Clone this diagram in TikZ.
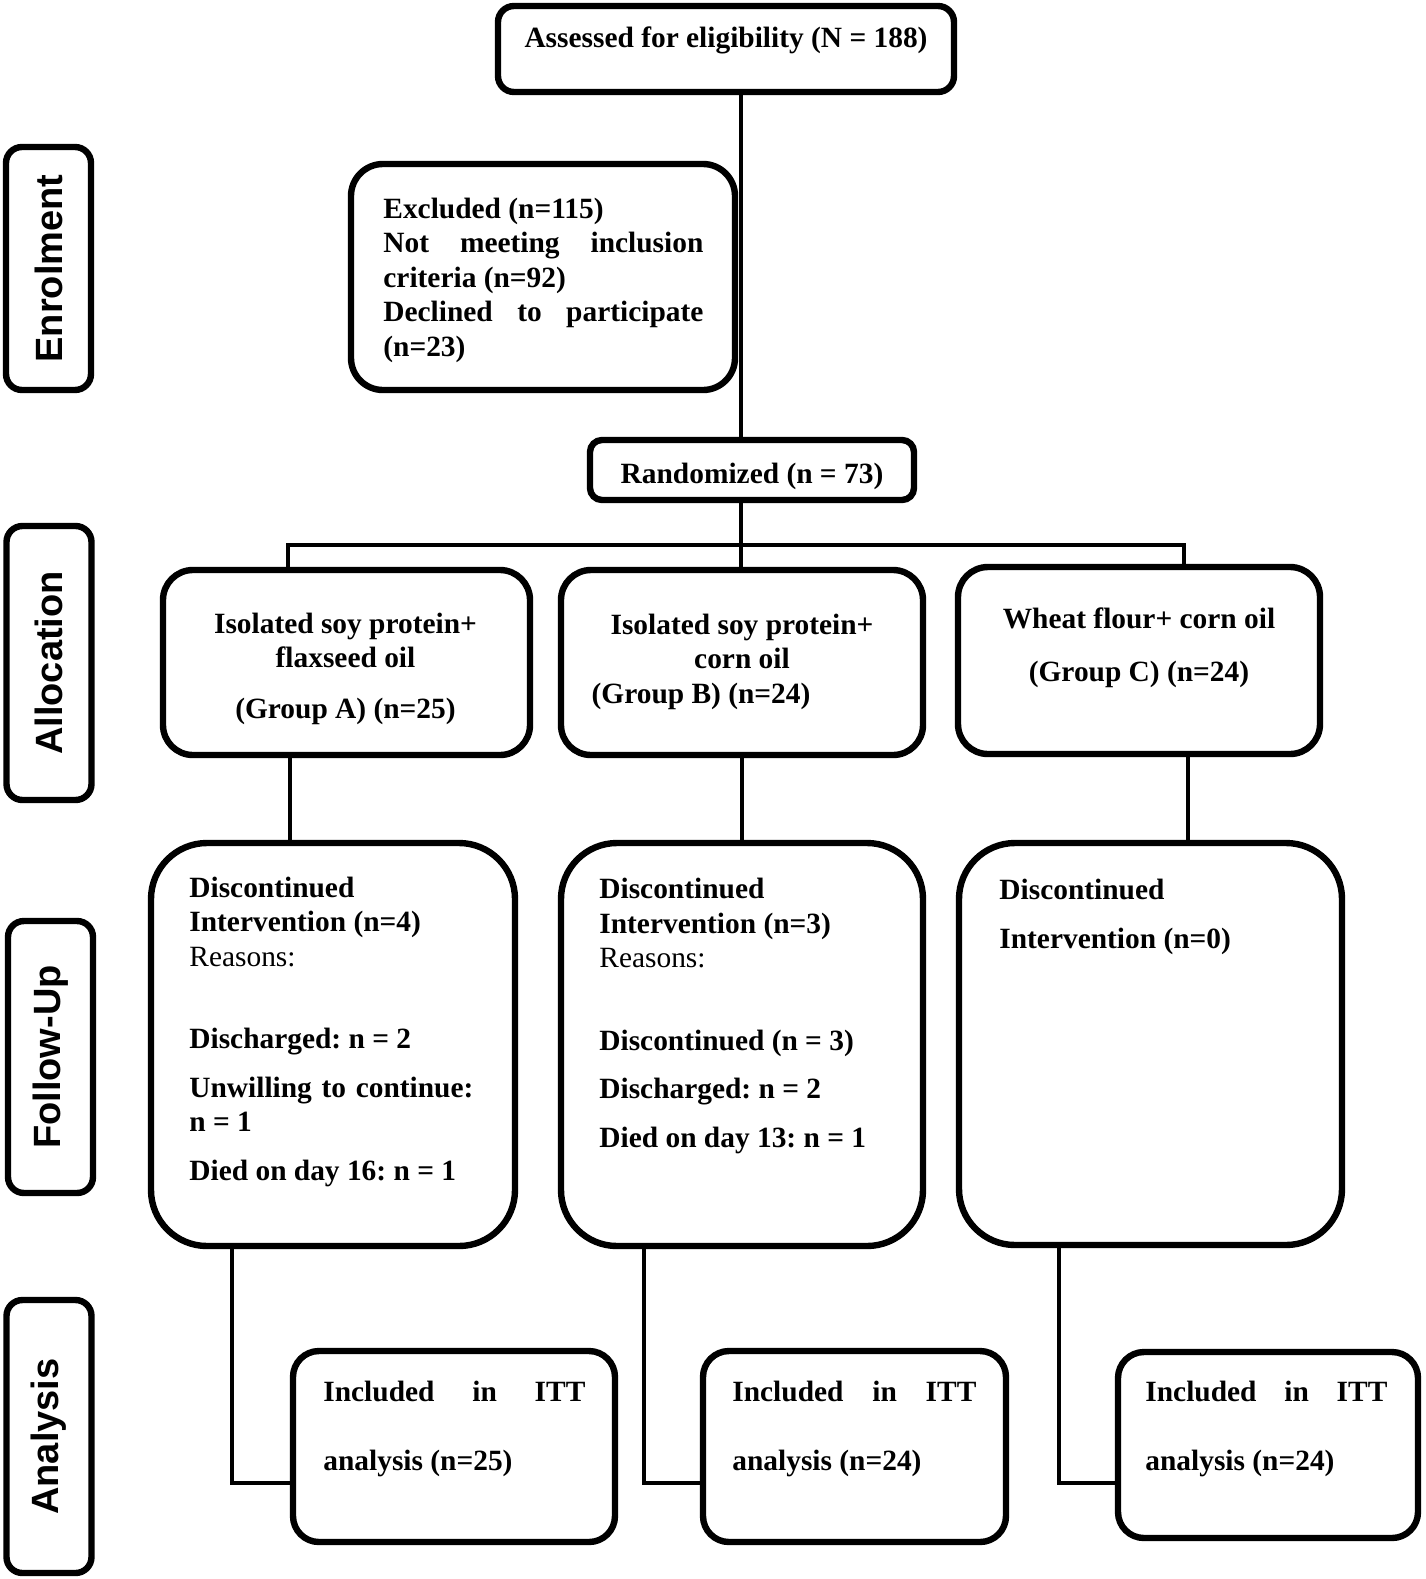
\documentclass[tikz,border=0pt]{standalone}
\usepackage{fontspec}
\setmainfont{Liberation Serif}
\setsansfont{Liberation Sans}
\frenchspacing
\newcommand{\spread}[2]{\makebox[#1][s]{#2}}

\begin{document}
\begin{tikzpicture}[x=0.5pt,y=-0.5pt,
  box/.style={draw,line width=3.2pt,inner sep=0pt},
  link/.style={line width=2.3pt},
  txt/.style={inner sep=0pt,font=\fontsize{14.7}{17.25}\selectfont\bfseries,align=left},
  phase/.style={box,rounded corners=8pt,rotate=90,minimum height=42.5pt,font=\fontsize{19}{22}\selectfont\sffamily\bfseries}]
\useasboundingbox (0,0) rectangle (1425,1579);
 \foreach \n/\x/\y/\h/\t in {enrol/48.5/268.5/121.5/Enrolment,alloc/49/663/137/Allocation,follow/50.5/1057/136/Follow-Up,anal/49/1436.5/136.5/Analysis}
 \node[phase,minimum width=\h pt] (\n) at (\x,\y) {\t};
\node[box,rounded corners=8pt,minimum width=228pt,minimum height=43pt] (assess) at (726,49) {};
\node[box,rounded corners=16pt,minimum width=192pt,minimum height=113pt] (excl) at (543,277) {};
\node[box,rounded corners=6pt,minimum width=162pt,minimum height=30pt] (rand) at (752,470) {};
\node[box,rounded corners=15pt,minimum width=183.5pt,minimum height=92.5pt] (grpA) at (346.5,662.5) {};
\node[box,rounded corners=15pt,minimum width=181pt,minimum height=92.5pt] (grpB) at (742,662.5) {};
\node[box,rounded corners=15pt,minimum width=181pt,minimum height=93.5pt] (grpC) at (1139,660.5) {};
\node[box,rounded corners=28pt,minimum width=182pt,minimum height=201.5pt] (fuA) at (333,1044.5) {};
\node[box,rounded corners=28pt,minimum width=181pt,minimum height=201.5pt] (fuB) at (742,1044.5) {};
\node[box,rounded corners=28pt,minimum width=191.5pt,minimum height=201pt] (fuC) at (1150.5,1044) {};
\node[box,rounded corners=13pt,minimum width=161pt,minimum height=95.5pt] (ittA) at (454,1446.5) {};
\node[box,rounded corners=13pt,minimum width=151.5pt,minimum height=95.5pt] (ittB) at (854.5,1446.5) {};
\node[box,rounded corners=13pt,minimum width=150pt,minimum height=93pt] (ittC) at (1268,1445) {};
\node[txt,anchor=base] (assesst) at (726,47) {Assessed for eligibility (N = 188)};
\node[txt,anchor=base west] (exclt) at (383,356) {Excluded (n=115)\\ \spread{160pt}{Not meeting inclusion}\\ criteria (n=92)\\ \spread{160pt}{Declined to participate}\\ (n=23)};
\node[txt,anchor=base] (randt) at (752,483) {Randomized (n = 73)};
\node[txt,anchor=base,align=center] (grpAt) at (345.5,718) {Isolated soy protein+\\ flaxseed oil\\[8pt] (Group A) (n=25)};
\node[txt,anchor=base,align=center] (grpBt) at (742,703) {Isolated soy protein+\\ corn oil\\ \hspace*{-41pt}(Group B) (n=24)};
\node[txt,anchor=base,align=center] (grpCt) at (1139,681) {Wheat flour+ corn oil\\[9pt] (Group C) (n=24)};
\node[txt,anchor=base west] (fuAt) at (189,1180) {Discontinued\\ Intervention (n=4)\\ {\mdseries Reasons:}\\[24pt] Discharged: n = 2\\[7pt] \spread{142pt}{Unwilling to continue:}\\ n = 1\\[7pt] Died on day 16: n = 1};
\node[txt,anchor=base west] (fuBt) at (599,1147) {Discontinued\\ Intervention (n=3)\\ {\mdseries Reasons:}\\[24pt] Discontinued (n = 3)\\[7pt] Discharged: n = 2\\[7pt] Died on day 13: n = 1};
\node[txt,anchor=base west] (fuCt) at (999,948) {Discontinued\\[7pt] Intervention (n=0)};
\node[txt,anchor=base west] (ittAt) at (323,1470) {\spread{131pt}{Included in ITT}\\[17pt] analysis (n=25)};
\node[txt,anchor=base west] (ittBt) at (732,1470) {\spread{122pt}{Included in ITT}\\[17pt] analysis (n=24)};
\node[txt,anchor=base west] (ittCt) at (1145,1470) {\spread{121pt}{Included in ITT}\\[17pt] analysis (n=24)};
\coordinate (mid) at (741,545);
\coordinate (busA) at (288,545);
\coordinate (busC) at (1184,545);
\draw[link] (assess.south -| mid) -- (rand.north -| mid);
\draw[link] (rand.south -| mid) -- (grpB.north -| mid);
\draw[link] (grpA.north -| busA) -- (busA) -- (busC) -- (grpC.north -| busC);
 \foreach \g/\x in {A/290,B/742,C/1188}{
 \coordinate (drop\g) at (\x,0);
 \draw[link] (grp\g.south -| drop\g) -- (fu\g.north -| drop\g);}
 \foreach \g/\x in {A/232,B/644,C/1059}{
 \coordinate (elb\g) at (\x,1483);
 \draw[link] (fu\g.south -| elb\g) -- (elb\g) -- (itt\g.west |- elb\g);}
\end{tikzpicture}
\end{document}
